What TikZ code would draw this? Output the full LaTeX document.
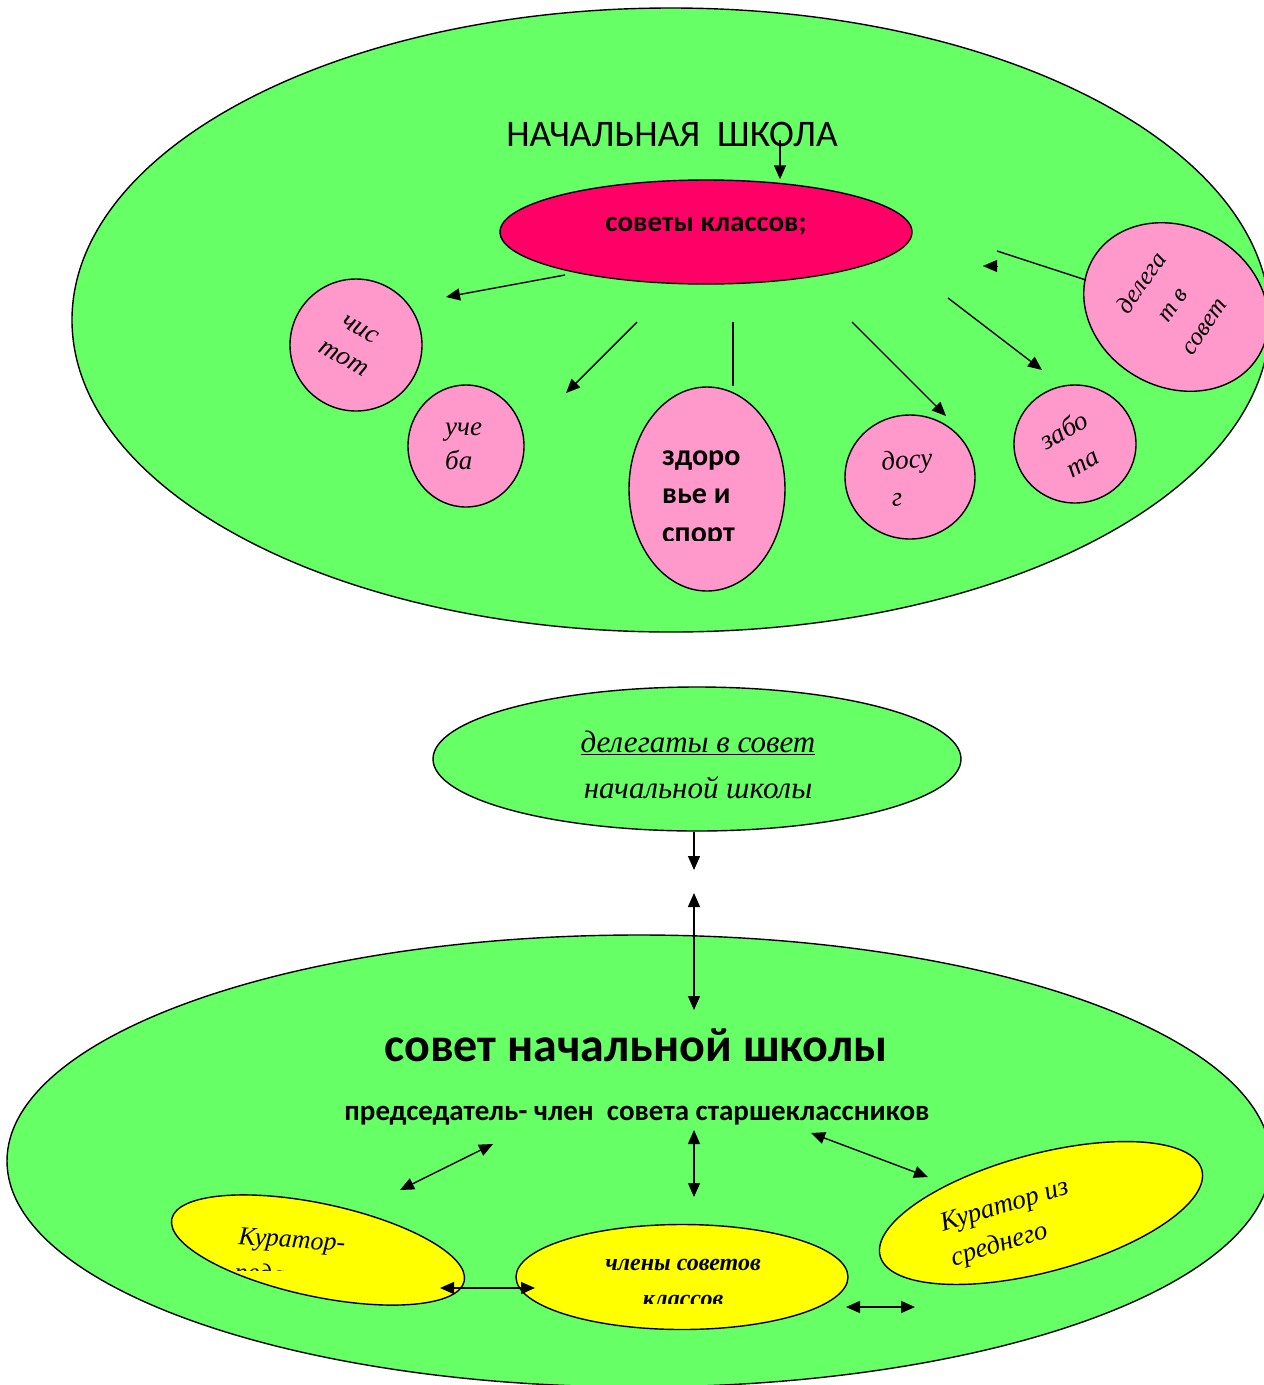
\documentclass[tikz,border=0pt]{standalone}
\usepackage{fontspec}
\setmainfont{Liberation Serif}
\setsansfont{Carlito}
\usetikzlibrary{shapes.geometric,arrows.meta}
\definecolor{bggreen}{HTML}{66FF66}
\definecolor{pinkc}{HTML}{FF99CC}
\definecolor{redc}{HTML}{FF0066}
\definecolor{yellowc}{HTML}{FFFF00}
\tikzset{
  shp/.style={ellipse, draw=black, line width=1.4pt, inner sep=0pt},
  big/.style={shp, fill=bggreen},
  pinkb/.style={shp, fill=pinkc},
  yel/.style={shp, fill=yellowc},
  arr/.style={line width=1.4pt, -{Triangle[length=14pt,width=12pt]}},
  darr/.style={line width=1.4pt, {Triangle[length=14pt,width=12pt]}-{Triangle[length=14pt,width=12pt]}},
  ln/.style={line width=1.4pt},
  itx/.style={font=\fontsize{27}{34}\selectfont\itshape, align=center, inner sep=0pt},
  sfb/.style={font=\fontsize{29}{34}\selectfont\sffamily\bfseries, inner sep=0pt},
  zline/.style={inner sep=0pt, anchor=base west, font=\fontsize{30}{36}\selectfont\sffamily\bfseries}
}
\begin{document}
\begin{tikzpicture}[x=1pt,y=-1pt]
\useasboundingbox (0,0) rectangle (1264,1385);
\clip (0,0) rectangle (1264,1385);
\fill[white] (0,0) rectangle (1264,1385);

% ---------- top ellipse ----------
\node[big, minimum width=1198pt, minimum height=624pt] (top) at (671,320) {};
\node[inner sep=0pt, font=\fontsize{37.5}{42}\selectfont\sffamily] (title) at (672,134) {НАЧАЛЬНАЯ\ \ ШКОЛА};
\node[shp, fill=redc, minimum width=412pt, minimum height=104pt] (cc) at (706,232) {};
\node[sfb] (cctext) at (706,226) {советы классов;};

\node[pinkb, minimum width=132pt, minimum height=132pt] (chis) at (356,345) {};
\node[itx, rotate=-30] (chist) at (352,344) {чис\\тот};
\node[pinkb, minimum width=116pt, minimum height=122pt] (ucheba) at (466,446) {};
\node[itx, align=left, anchor=west] (uchet) at (445,446) {уче\\ба};
\node[pinkb, minimum width=156pt, minimum height=204pt] (zdor) at (707,489) {};
\begin{scope}
\clip (620,380) rectangle (800,540);
\node[zline] (z1) at (662,465) {здоро};
\node[zline] (z2) at (662,503) {вье и};
\node[zline] (z3) at (662,542) {спорт};
\end{scope}
\node[pinkb, minimum width=130pt, minimum height=124pt] (dosug) at (910,477) {};
\node[itx, rotate=5] (dosug1) at (907,462) {досу};
\node[itx, rotate=5] (dosug2) at (897,500) {г};
\node[pinkb, minimum width=122pt, minimum height=118pt] (zabota) at (1075,444) {};
\node[itx, rotate=30, font=\fontsize{27}{37}\selectfont\itshape] (zabotat) at (1073,446) {забо\\та};
\node[pinkb, minimum width=192pt, minimum height=160pt, rotate=-30] (deleg) at (1176,307) {};
\node[itx, rotate=55, font=\fontsize{25}{38}\selectfont\itshape] (delegt) at (1172,304) {делега\\т в\\совет};

\coordinate (t1) at (780,140);
\draw[arr] (t1) -- (cc.north -| t1);
\coordinate (a1s) at (565,275); \coordinate (a1e) at (446,297);
\draw[arr] (a1s) -- (a1e);
\coordinate (a2s) at (637,322); \coordinate (a2e) at (566,393);
\draw[arr] (a2s) -- (a2e);
\coordinate (a3s) at (733,322);
\draw[ln] (a3s) -- (zdor.north -| a3s);
\coordinate (a4s) at (852,322); \coordinate (a4e) at (946,416);
\draw[arr] (a4s) -- (a4e);
\coordinate (a5s) at (948,298); \coordinate (a5e) at (1042,370);
\draw[arr] (a5s) -- (a5e);
\coordinate (d0) at (1086,280);
\coordinate (d1) at (997,251);
\draw[ln] (d0) -- (d1);
\coordinate (dh1) at (997,266); \coordinate (dh2) at (983,266);
\draw[arr, line width=0.1pt] (dh1) -- (dh2);

% ---------- middle ellipse ----------
\node[big, minimum width=528pt, minimum height=144pt] (mid) at (697,759) {};
\node[itx, font=\fontsize{31}{46}\selectfont\itshape] (midtext) at (698,765) {\underline{делегаты в совет}\\начальной школы};
\coordinate (m1) at (694,870);
\draw[arr] (mid.south -| m1) -- (m1);

% ---------- bottom ellipse ----------
\node[big, minimum width=1264pt, minimum height=452pt] (bot) at (639,1161) {};
\coordinate (m2) at (694,893); \coordinate (m3) at (694,1010);
\draw[darr] (m2) -- (m3);
\node[inner sep=0pt, font=\fontsize{48}{52}\selectfont\sffamily\bfseries] (bt) at (636,1045) {совет начальной школы};
\node[sfb] (pred) at (637,1116) {председатель- член\ \ совета старшеклассников};

\node[yel, minimum width=299pt, minimum height=93pt, rotate=-12] (kur1) at (318,1250) {};
\begin{scope}
\clip (170,1190) rectangle (470,1270);
\node[inner sep=0pt, anchor=base west, rotate=-4, font=\fontsize{26}{34}\selectfont\itshape] (k1a) at (238,1244) {Куратор-};
\node[inner sep=0pt, anchor=base west, rotate=-4, font=\fontsize{26}{34}\selectfont\itshape] (k1b) at (234,1280) {педагог};
\end{scope}
\node[yel, minimum width=332pt, minimum height=105pt] (chl) at (682,1277) {};
\begin{scope}
\clip (520,1220) rectangle (850,1303);
\node[inner sep=0pt, anchor=base, font=\fontsize{24}{30}\selectfont\bfseries\itshape] (c1) at (683,1270) {члены советов};
\node[inner sep=0pt, anchor=base, font=\fontsize{24}{30}\selectfont\bfseries\itshape] (c2) at (683,1306) {классов};
\end{scope}
\node[yel, minimum width=333pt, minimum height=118pt, rotate=15] (kur2) at (1041,1213) {};
\node[itx, rotate=17, align=left, font=\fontsize{27}{36}\selectfont\itshape] (kur2t) at (1010,1224) {Куратор из\\среднего};

\coordinate (b1s) at (493,1144); \coordinate (b1e) at (400,1190);
\draw[darr] (b1s) -- (b1e);
\coordinate (b2s) at (694,1130); \coordinate (b2e) at (694,1197);
\draw[darr] (b2s) -- (b2e);
\coordinate (b3s) at (811,1133); \coordinate (b3e) at (928,1177);
\draw[darr] (b3s) -- (b3e);
\coordinate (b4s) at (440,1288); \coordinate (b4e) at (535,1288);
\draw[darr] (b4s) -- (b4e);
\coordinate (b5s) at (846,1307); \coordinate (b5e) at (915,1307);
\draw[darr] (b5s) -- (b5e);
\end{tikzpicture}
\end{document}
